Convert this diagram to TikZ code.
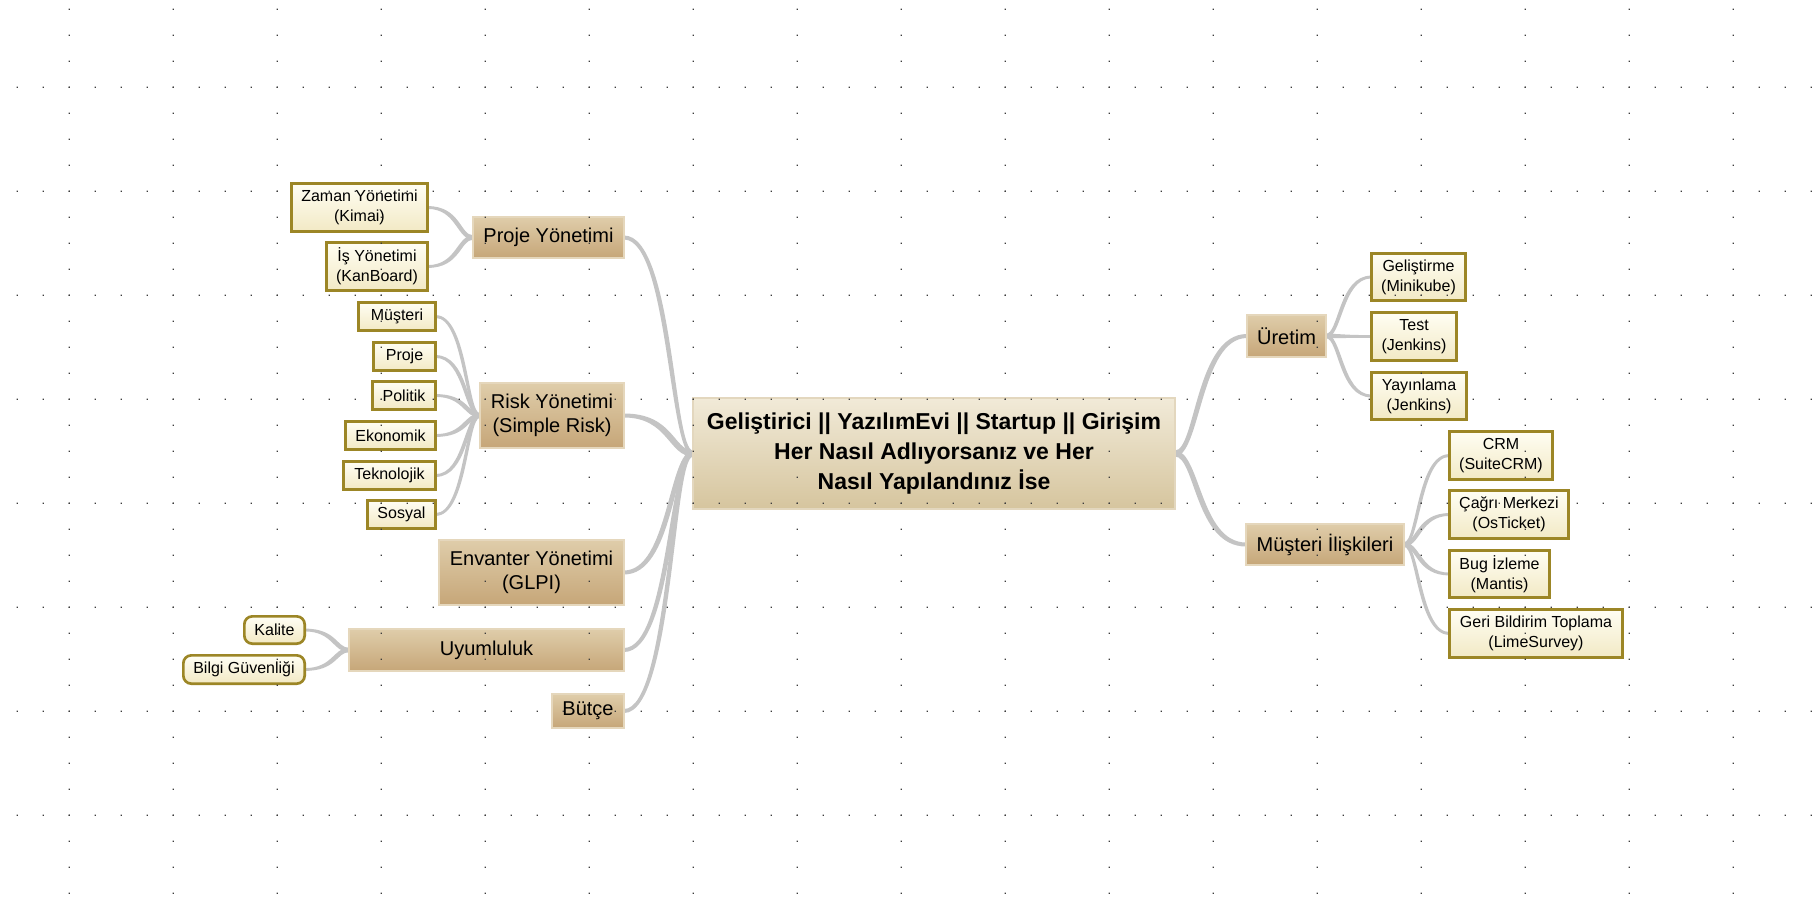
\documentclass[tikz,border=0pt]{standalone}
\usepackage{fontspec}
\setmainfont{Liberation Sans}
\usetikzlibrary{calc}
\pgfdeclarelayer{bg}\pgfdeclarelayer{fg}\pgfsetlayers{bg,main,fg}
\definecolor{leafbd}{RGB}{156,134,38}
\definecolor{leaftop}{RGB}{255,254,244}
\definecolor{leafbot}{RGB}{242,233,196}
\definecolor{brtop}{RGB}{223,205,170}
\definecolor{brbot}{RGB}{198,166,120}
\definecolor{brbd}{RGB}{229,215,188}
\definecolor{roottop}{RGB}{241,234,216}
\definecolor{rootbot}{RGB}{214,197,158}
\definecolor{rootbd}{RGB}{227,215,190}
\definecolor{connc}{RGB}{196,196,196}
\definecolor{dotc}{RGB}{60,60,60}
\newcommand\leaffont{\fontsize{12}{15}\selectfont}
\newcommand\brfont{\fontsize{15}{18}\selectfont}
\newcommand\rootfont{\fontsize{17.25}{22.5}\selectfont\bfseries}
\tikzset{
  leaf/.style={draw=leafbd, line width=2pt, top color=leaftop, bottom color=leafbot,
    font=\leaffont, align=center, inner sep=0pt, outer sep=0pt},
  rleaf/.style={leaf, rounded corners=6pt},
  branch/.style={draw=brbd, line width=1.5pt, top color=brtop, bottom color=brbot,
    font=\brfont, align=center, inner sep=0pt, outer sep=0pt},
  rootbox/.style={draw=rootbd, line width=1.5pt, top color=roottop, bottom color=rootbot,
    font=\rootfont, align=center, inner sep=0pt, outer sep=0pt},
  lsz/.style 2 args={minimum width={#1*0.75pt-2pt}, minimum height={#2*0.75pt-2pt}},
  bsz/.style 2 args={minimum width={#1*0.75pt-1.5pt}, minimum height={#2*0.75pt-1.5pt}}
}
% tapered connector: #1 parent anchor, #2 child anchor, #3/#4 half widths (px)
\newcommand\conn[4]{%
  \fill[connc] let \p1=(#1), \p2=(#2),
    \n{cl}={\x1+0.32*(\x2-\x1)-(#3+#4)*0.375*(2*(\y2>\y1)-1)},
    \n{cr}={\x1+0.32*(\x2-\x1)+(#3+#4)*0.375*(2*(\y2>\y1)-1)},
    \n{ya}={\y1+#3*0.75*(2*(\x2>\x1)-1)},
    \n{yA}={\y1-#3*0.75*(2*(\x2>\x1)-1)},
    \n{yb}={\y2+#4*0.75*(2*(\x2>\x1)-1)},
    \n{yB}={\y2-#4*0.75*(2*(\x2>\x1)-1)}
  in (\x1,\n{ya}) .. controls (\n{cl},\n{ya}) and (\n{cl},\n{yb}) .. (\x2,\n{yb})
     -- (\x2,\n{yB}) .. controls (\n{cr},\n{yB}) and (\n{cr},\n{yA}) .. (\x1,\n{yA}) -- cycle;}
\begin{document}
\begin{tikzpicture}[x=0.75pt,y=-0.75pt]
\useasboundingbox (0,0) rectangle (1813,914);
\begin{pgfonlayer}{bg}\fill[white] (0,0) rectangle (1813,914);\end{pgfonlayer}

% root
\node[rootbox, bsz={484}{113}] (root) at (934,453.5)
  {Geliştirici || YazılımEvi || Startup || Girişim\\Her Nasıl Adlıyorsanız ve Her\\Nasıl Yapılandınız İse};

% left branches
\node[branch, bsz={153}{43}] (pm) at (548.5,237.5) {Proje Yönetimi};
\node[branch, bsz={146}{67}] (rm) at (552,415.5) {Risk Yönetimi\\(Simple Risk)};
\node[branch, bsz={187}{67}] (inv) at (531.5,572.5) {Envanter Yönetimi\\(GLPI)};
\node[branch, bsz={277}{44}] (uy) at (486.5,650) {Uyumluluk};
\node[branch, bsz={74}{36}] (bt) at (588,711) {Bütçe};

% leaves of Proje Yönetimi
\node[leaf, lsz={139}{51}] (zaman) at (359.5,207.5) {Zaman Yönetimi\\(Kimai)};
\node[leaf, lsz={104}{51}] (is) at (377,266.5) {İş Yönetimi\\(KanBoard)};

% leaves of Risk Yönetimi
\node[leaf, lsz={80}{31}] (musteri) at (397,316.5) {Müşteri};
\node[leaf, lsz={65}{31}] (proje) at (404.5,356.5) {Proje};
\node[leaf, lsz={66}{31}] (politik) at (404,395.5) {Politik};
\node[leaf, lsz={93}{31}] (ekonomik) at (390.5,435.5) {Ekonomik};
\node[leaf, lsz={95}{31}] (teknolojik) at (389.5,475.5) {Teknolojik};
\node[leaf, lsz={71}{31}] (sosyal) at (401.5,514.5) {Sosyal};

% leaves of Uyumluluk
\node[rleaf, lsz={63}{30}] (kalite) at (274.5,630) {Kalite};
\node[rleaf, lsz={124}{31}] (bilgi) at (244,669.5) {Bilgi Güvenliği};

% right branches
\node[branch, bsz={81}{44}] (ur) at (1286.5,336) {Üretim};
\node[branch, bsz={160}{43}] (mi) at (1325,544.5) {Müşteri İlişkileri};

% leaves of Üretim
\node[leaf, lsz={97}{50}] (gel) at (1418.5,277) {Geliştirme\\(Minikube)};
\node[leaf, lsz={88}{51}] (test) at (1414,336.5) {Test\\(Jenkins)};
\node[leaf, lsz={98}{50}] (yay) at (1419,396) {Yayınlama\\(Jenkins)};

% leaves of Müşteri İlişkileri
\node[leaf, lsz={106}{51}] (crm) at (1501,455.5) {CRM\\(SuiteCRM)};
\node[leaf, lsz={122}{51}] (cagri) at (1509,514.5) {Çağrı Merkezi\\(OsTicket)};
\node[leaf, lsz={103}{50}] (bug) at (1499.5,574) {Bug İzleme\\(Mantis)};
\node[leaf, lsz={176}{51}] (geri) at (1536,633.5) {Geri Bildirim Toplama\\(LimeSurvey)};

\begin{pgfonlayer}{bg}
\foreach \c in {pm,rm,inv,uy,bt} {\conn{root.west}{\c.east}{3}{2}}
\foreach \c in {ur,mi} {\conn{root.east}{\c.west}{3}{2}}
\foreach \c in {zaman,is} {\conn{pm.west}{\c.east}{2.2}{1.4}}
\foreach \c in {musteri,proje,politik,ekonomik,teknolojik,sosyal} {\conn{rm.west}{\c.east}{2.2}{1.4}}
\foreach \c in {kalite,bilgi} {\conn{uy.west}{\c.east}{2.2}{1.4}}
\foreach \c in {gel,test,yay} {\conn{ur.east}{\c.west}{2.2}{1.4}}
\foreach \c in {crm,cagri,bug,geri} {\conn{mi.east}{\c.west}{2.2}{1.4}}
\end{pgfonlayer}

% dotted grid
\begin{pgfonlayer}{fg}
\fill[dotc] \foreach \r in {87.3,191.3,295.3,399.3,503.3,607.3,711.3,815.3} {
  \foreach \i in {0,...,69} { ({17.3+26*\i-0.6},{\r-0.6}) rectangle +(1.2,1.2) } };
\fill[dotc] \foreach \k in {0,...,16} {
  \foreach \j in {0,...,34} { ({69.3+104*\k-0.6},{9.3+26*\j-0.6}) rectangle +(1.2,1.2) } };
\end{pgfonlayer}
\end{tikzpicture}
\end{document}
